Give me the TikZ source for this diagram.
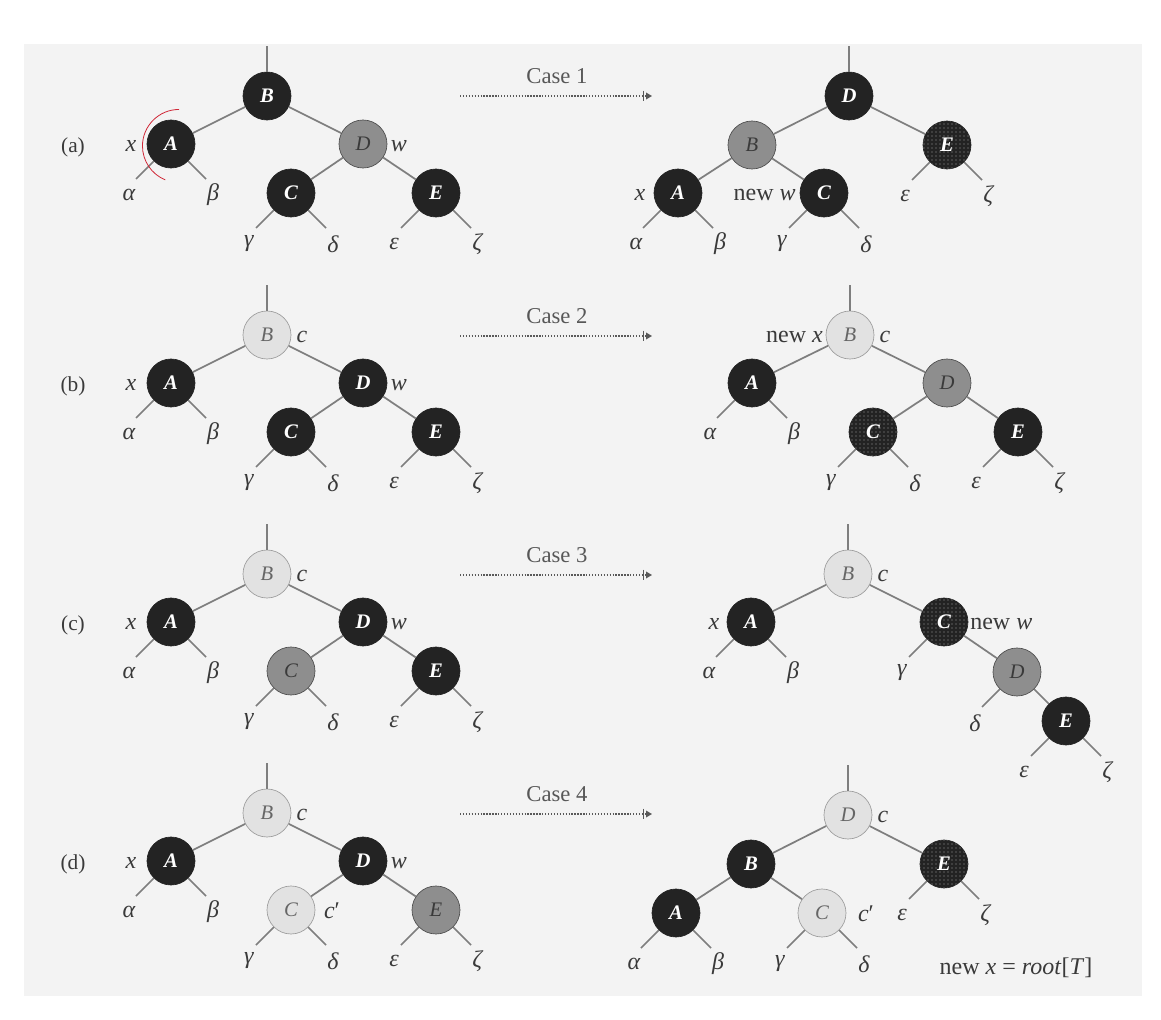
\documentclass[tikz,border=0pt]{standalone}
\usepackage{fontspec}
\setmainfont{Liberation Serif}
\usetikzlibrary{arrows.meta,patterns}
\definecolor{bgc}{HTML}{F3F3F3}
\definecolor{nblack}{HTML}{232323}
\definecolor{nred}{HTML}{8E8E8E}
\definecolor{nlite}{HTML}{E2E2E2}
\definecolor{nliteb}{HTML}{9C9C9C}
\definecolor{edgec}{HTML}{7E7E7E}
\definecolor{txtc}{HTML}{3A3A3A}
\definecolor{arcred}{HTML}{D02838}
\newcommand\lf[4]{%
  \draw[edge] (#1) -- +(#2*35,35);
  \node[lbl] (#3) at ([shift={(#2*42,51)}]#1) {\textit{#4}};}
\newcommand\casearrow[3]{%
  \coordinate (#1s) at (460,#2);
  \coordinate (#1e) at (652,#2);
  \draw[carrow] (#1s) -- (#1e);
  \node[casel] (#1t) at (557,#2-20) {Case #3};}
\begin{document}
\begin{tikzpicture}[x=0.75pt,y=-0.75pt,
  nodebase/.style={circle,minimum size=36pt,inner sep=0pt,line width=0.5pt},
  blk/.style={nodebase,fill=nblack,draw=nblack,text=white,font=\fontsize{15.5}{15}\selectfont\bfseries\itshape},
  blkdot/.style={blk,postaction={pattern=dots,pattern color=gray!75}},
  redn/.style={nodebase,fill=nred,draw=gray!60!black,text=txtc,font=\fontsize{15.5}{15}\selectfont\itshape},
  lite/.style={nodebase,fill=nlite,draw=nliteb,text=gray!80!black,font=\fontsize{15.5}{15}\selectfont\itshape},
  edge/.style={draw=edgec,line width=1.3pt},
  lbl/.style={text=txtc,inner sep=0pt,font=\fontsize{18}{20}\selectfont},
  rowl/.style={text=txtc,inner sep=0pt,font=\fontsize{16}{18}\selectfont},
  casel/.style={text=txtc!85,inner sep=0pt,font=\fontsize{17}{19}\selectfont},
  carrow/.style={draw=gray!70!black,line width=0.9pt,dash pattern=on 1pt off 1.2pt,
    -{Bar[width=8pt,line width=1.1pt,sep=1.5pt] Triangle[length=4.5pt,width=5pt]}},
  redarc/.style={draw=arcred,line width=0.6pt}]
\useasboundingbox (0,0) rectangle (1161,1020);
\fill[white] (0,0) rectangle (1161,1020);
\fill[bgc] (24,44) rectangle (1142,996);

% ================= row (a) =================
\node[rowl] (rowa) at (73,147) {(a)};
\casearrow{ca}{96}{1}
% left
\node[blk]  (aB) at (267,96)  {B};
\node[blk]  (aA) at (171,144) {A};
\node[redn] (aD) at (363,144) {D};
\node[blk]  (aC) at (291,193) {C};
\node[blk]  (aE) at (436,193) {E};
\draw[edge] (aB) -- +(0,-50);
\draw[edge] (aB) -- (aA);
\draw[edge] (aB) -- (aD);
\draw[edge] (aD) -- (aC);
\draw[edge] (aD) -- (aE);
\lf{aA}{-1}{aAl}{α}\lf{aA}{1}{aAr}{β}
\lf{aC}{-1}{aCl}{γ}\lf{aC}{1}{aCr}{δ}
\lf{aE}{-1}{aEl}{ε}\lf{aE}{1}{aEr}{ζ}
\node[lbl] (aX) at ([shift={(-40,2)}]aA) {\textit{x}};
\node[lbl] (aW) at ([shift={(36,2)}]aD) {\textit{w}};
\draw[redarc] ([shift={(8,2)}]aA.center) ++(90:27.4pt) arc[start angle=90,end angle=248,radius=27.4pt];
% right
\node[blk]    (aD2) at (849,96)  {D};
\node[redn]   (aB2) at (752,145) {B};
\node[blkdot] (aE2) at (947,145) {E};
\node[blk]    (aA2) at (678,193) {A};
\node[blk]    (aC2) at (824,193) {C};
\draw[edge] (aD2) -- +(0,-50);
\draw[edge] (aD2) -- (aB2);
\draw[edge] (aD2) -- (aE2);
\draw[edge] (aB2) -- (aA2);
\draw[edge] (aB2) -- (aC2);
\lf{aA2}{-1}{aA2l}{α}\lf{aA2}{1}{aA2r}{β}
\lf{aC2}{-1}{aC2l}{γ}\lf{aC2}{1}{aC2r}{δ}
\lf{aE2}{-1}{aE2l}{ε}\lf{aE2}{1}{aE2r}{ζ}
\node[lbl] (aX2) at ([shift={(-38,2)}]aA2) {\textit{x}};
\node[lbl,anchor=east] (aNW) at (796,195) {new \textit{w}};

% ================= row (b) =================
\node[rowl] (rowb) at (73,386) {(b)};
\casearrow{cb}{336}{2}
% left
\node[lite] (bB) at (267,335) {B};
\node[blk]  (bA) at (171,383) {A};
\node[blk]  (bD) at (363,383) {D};
\node[blk]  (bC) at (291,432) {C};
\node[blk]  (bE) at (436,432) {E};
\draw[edge] (bB) -- +(0,-50);
\draw[edge] (bB) -- (bA);
\draw[edge] (bB) -- (bD);
\draw[edge] (bD) -- (bC);
\draw[edge] (bD) -- (bE);
\lf{bA}{-1}{bAl}{α}\lf{bA}{1}{bAr}{β}
\lf{bC}{-1}{bCl}{γ}\lf{bC}{1}{bCr}{δ}
\lf{bE}{-1}{bEl}{ε}\lf{bE}{1}{bEr}{ζ}
\node[lbl] (bX) at ([shift={(-40,2)}]bA) {\textit{x}};
\node[lbl] (bW) at ([shift={(36,2)}]bD) {\textit{w}};
\node[lbl] (bc) at ([shift={(35,2)}]bB) {\textit{c}};
% right
\node[lite]   (bB2) at (850,335) {B};
\node[blk]    (bA2) at (752,383) {A};
\node[redn]   (bD2) at (947,383) {D};
\node[blkdot] (bC2) at (873,432) {C};
\node[blk]    (bE2) at (1018,432) {E};
\draw[edge] (bB2) -- +(0,-50);
\draw[edge] (bB2) -- (bA2);
\draw[edge] (bB2) -- (bD2);
\draw[edge] (bD2) -- (bC2);
\draw[edge] (bD2) -- (bE2);
\lf{bA2}{-1}{bA2l}{α}\lf{bA2}{1}{bA2r}{β}
\lf{bC2}{-1}{bC2l}{γ}\lf{bC2}{1}{bC2r}{δ}
\lf{bE2}{-1}{bE2l}{ε}\lf{bE2}{1}{bE2r}{ζ}
\node[lbl,anchor=east] (bNX) at (823,337) {new \textit{x}};
\node[lbl] (bc2) at ([shift={(35,2)}]bB2) {\textit{c}};

% ================= row (c) =================
\node[rowl] (rowc) at (73,625) {(c)};
\casearrow{cc}{575}{3}
% left
\node[lite] (cB) at (267,574) {B};
\node[blk]  (cA) at (171,622) {A};
\node[blk]  (cD) at (363,622) {D};
\node[redn] (cC) at (291,671) {C};
\node[blk]  (cE) at (436,671) {E};
\draw[edge] (cB) -- +(0,-50);
\draw[edge] (cB) -- (cA);
\draw[edge] (cB) -- (cD);
\draw[edge] (cD) -- (cC);
\draw[edge] (cD) -- (cE);
\lf{cA}{-1}{cAl}{α}\lf{cA}{1}{cAr}{β}
\lf{cC}{-1}{cCl}{γ}\lf{cC}{1}{cCr}{δ}
\lf{cE}{-1}{cEl}{ε}\lf{cE}{1}{cEr}{ζ}
\node[lbl] (cX) at ([shift={(-40,2)}]cA) {\textit{x}};
\node[lbl] (cW) at ([shift={(36,2)}]cD) {\textit{w}};
\node[lbl] (cc) at ([shift={(35,2)}]cB) {\textit{c}};
% right
\node[lite]   (cB2) at (848,574) {B};
\node[blk]    (cA2) at (751,622) {A};
\node[blkdot] (cC2) at (944,622) {C};
\node[redn]   (cD2) at (1017,672) {D};
\node[blk]    (cE2) at (1066,721) {E};
\draw[edge] (cB2) -- +(0,-50);
\draw[edge] (cB2) -- (cA2);
\draw[edge] (cB2) -- (cC2);
\draw[edge] (cC2) -- (cD2);
\draw[edge] (cD2) -- (cE2);
\lf{cA2}{-1}{cA2l}{α}\lf{cA2}{1}{cA2r}{β}
\lf{cC2}{-1}{cC2l}{γ}
\lf{cD2}{-1}{cD2l}{δ}
\lf{cE2}{-1}{cE2l}{ε}\lf{cE2}{1}{cE2r}{ζ}
\node[lbl] (cX2) at ([shift={(-37,2)}]cA2) {\textit{x}};
\node[lbl,anchor=west] (cNW) at (970,624) {new \textit{w}};
\node[lbl] (cc2) at ([shift={(35,2)}]cB2) {\textit{c}};

% ================= row (d) =================
\node[rowl] (rowd) at (73,864) {(d)};
\casearrow{cd}{814}{4}
% left
\node[lite] (dB) at (267,813) {B};
\node[blk]  (dA) at (171,861) {A};
\node[blk]  (dD) at (363,861) {D};
\node[lite] (dC) at (291,910) {C};
\node[redn] (dE) at (436,910) {E};
\draw[edge] (dB) -- +(0,-50);
\draw[edge] (dB) -- (dA);
\draw[edge] (dB) -- (dD);
\draw[edge] (dD) -- (dC);
\draw[edge] (dD) -- (dE);
\lf{dA}{-1}{dAl}{α}\lf{dA}{1}{dAr}{β}
\lf{dC}{-1}{dCl}{γ}\lf{dC}{1}{dCr}{δ}
\lf{dE}{-1}{dEl}{ε}\lf{dE}{1}{dEr}{ζ}
\node[lbl] (dX) at ([shift={(-40,2)}]dA) {\textit{x}};
\node[lbl] (dW) at ([shift={(36,2)}]dD) {\textit{w}};
\node[lbl] (dc) at ([shift={(35,2)}]dB) {\textit{c}};
\node[lbl] (dcp) at ([shift={(41,1)}]dC) {\textit{c}′};
% right
\node[lite]   (dD2) at (848,815) {D};
\node[blk]    (dB2) at (751,864) {B};
\node[blkdot] (dE2) at (944,864) {E};
\node[blk]    (dA2) at (676,913) {A};
\node[lite]   (dC2) at (822,913) {C};
\draw[edge] (dD2) -- +(0,-50);
\draw[edge] (dD2) -- (dB2);
\draw[edge] (dD2) -- (dE2);
\draw[edge] (dB2) -- (dA2);
\draw[edge] (dB2) -- (dC2);
\lf{dA2}{-1}{dA2l}{α}\lf{dA2}{1}{dA2r}{β}
\lf{dC2}{-1}{dC2l}{γ}\lf{dC2}{1}{dC2r}{δ}
\lf{dE2}{-1}{dE2l}{ε}\lf{dE2}{1}{dE2r}{ζ}
\node[lbl] (dc2) at ([shift={(35,2)}]dD2) {\textit{c}};
\node[lbl] (dcp2) at ([shift={(44,1)}]dC2) {\textit{c}′};
\node[lbl] (dNX) at (1016,968) {new \textit{x} = \textit{root}[\textit{T}]};
\end{tikzpicture}
\end{document}
